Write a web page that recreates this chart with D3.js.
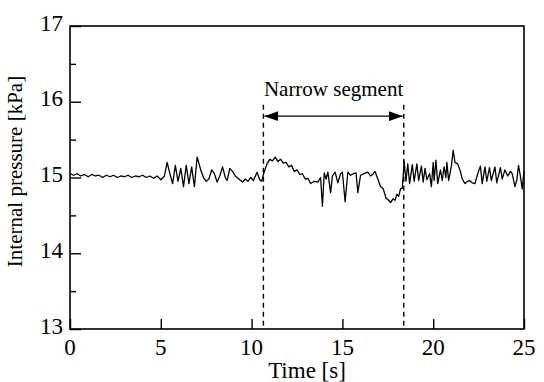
<!DOCTYPE html>
<html>
<head>
<meta charset="utf-8">
<script src="https://cdn.jsdelivr.net/npm/d3@7"></script>
<style>
  html, body { margin: 0; padding: 0; background: #fff; }
</style>
</head>
<body>
<div id="canvas"></div>
<script>
'use strict';

// Sample times [s] and internal pressure [kPa].
const timeS = [
  0.0, 0.2, 0.4, 0.6, 0.8, 1.0, 1.2, 1.4, 1.6, 1.8, 2.0, 2.2, 2.4, 2.6, 2.8,
  3.0, 3.2, 3.4, 3.6, 3.8, 4.0, 4.2, 4.4, 4.6, 4.8, 5.0, 5.2, 5.35, 5.5, 5.65,
  5.8, 5.95, 6.1, 6.25, 6.4, 6.55, 6.7, 6.85, 7.0, 7.2, 7.35, 7.5, 7.65, 7.8,
  7.95, 8.1, 8.25, 8.4, 8.55, 8.65, 8.8, 8.95, 9.1, 9.3, 9.5, 9.65, 9.8, 9.95,
  10.1, 10.3, 10.45, 10.55, 10.7, 10.85, 11.0, 11.15, 11.3, 11.45, 11.6, 11.75,
  11.9, 12.05, 12.2, 12.35, 12.5, 12.65, 12.8, 12.95, 13.1, 13.25, 13.45, 13.65,
  13.8, 13.9, 14.0, 14.1, 14.2, 14.35, 14.45, 14.6, 14.75, 14.9, 15.0, 15.15,
  15.3, 15.45, 15.6, 15.75, 15.85, 16.0, 16.2, 16.4, 16.55, 16.7, 16.8, 16.95,
  17.1, 17.25, 17.4, 17.55, 17.65, 17.8, 17.9, 18.0, 18.1, 18.2, 18.3, 18.4,
  18.5, 18.6, 18.7, 18.85, 18.95, 19.1, 19.2, 19.35, 19.45, 19.55, 19.65, 19.8,
  19.9, 20.0, 20.05, 20.15, 20.25, 20.4, 20.5, 20.6, 20.7, 20.75, 20.85, 21.0,
  21.1, 21.2, 21.35, 21.5, 21.6, 21.75, 21.9, 22.0, 22.15, 22.3, 22.45, 22.6,
  22.7, 22.85, 22.95, 23.1, 23.2, 23.4, 23.5, 23.7, 23.8, 23.95, 24.1, 24.25,
  24.35, 24.5, 24.6, 24.7, 24.8, 24.9, 25.0,
];
const pressureKPa = [
  15.05, 15.03, 15.05, 15.02, 15.04, 15.01, 15.04, 15.02, 15.03, 15.00, 15.03,
  15.01, 15.03, 15.00, 15.02, 15.01, 15.03, 15.00, 15.02, 15.01, 15.03, 15.00,
  15.02, 14.99, 15.02, 14.97, 15.02, 15.20, 15.05, 14.92, 15.16, 14.95, 15.12,
  14.88, 15.16, 14.92, 15.14, 14.88, 15.27, 15.10, 15.00, 14.95, 14.98, 15.10,
  15.05, 14.94, 15.02, 15.14, 15.00, 14.96, 15.12, 15.08, 15.02, 14.98, 14.94,
  14.98, 14.95, 15.00, 14.96, 15.07, 14.97, 14.95, 15.08, 15.18, 15.24, 15.22,
  15.27, 15.21, 15.24, 15.19, 15.20, 15.14, 15.16, 15.08, 15.10, 15.04, 15.05,
  14.98, 14.99, 14.92, 14.95, 14.94, 15.00, 14.62, 15.06, 14.98, 15.07, 14.80,
  15.02, 15.07, 14.93, 15.05, 15.07, 14.68, 15.07, 15.03, 15.05, 15.06, 14.80,
  15.03, 15.05, 15.07, 15.02, 15.05, 15.08, 14.98, 14.88, 14.85, 14.73, 14.70,
  14.67, 14.72, 14.70, 14.78, 14.75, 14.85, 14.86, 15.22, 14.95, 15.18, 14.92,
  15.17, 14.95, 15.18, 14.96, 15.15, 14.94, 15.12, 14.97, 15.05, 14.88, 15.20,
  14.96, 15.23, 14.92, 15.10, 14.96, 15.14, 15.00, 15.20, 14.96, 15.15, 15.36,
  15.20, 15.18, 15.08, 14.98, 14.92, 14.95, 14.96, 14.93, 14.92, 15.05, 15.15,
  14.92, 15.14, 14.95, 15.13, 14.96, 15.14, 14.93, 15.13, 14.98, 15.10, 15.02,
  15.08, 15.05, 14.88, 14.96, 15.16, 15.02, 14.85, 15.08,
];

const xTicks = [0, 5, 10, 15, 20, 25];
const yTicks = [13, 14, 15, 16, 17];
const yMinorTicks = [13.5, 14.5, 15.5, 16.5];

// Narrow segment markers [s] and the heights used for the annotation [kPa].
const segmentBounds = [10.65, 18.38];
const segmentLabel = 'Narrow segment';
const segmentArrowLevel = 15.81;
const segmentLineTop = 15.96;
const segmentLabelLevel = 16.07;

// A single family name; the quoted fallback list was not picked up.
const FONT = 'Liberation Serif';

class PressurePlotter {
  constructor() {
    this.width_ = 544;
    this.height_ = 382;
    this.margins_ = {top: 26, right: 20, bottom: 53, left: 70};
    this.chartWidth_ = this.width_ - this.margins_.left - this.margins_.right;
    this.chartHeight_ = this.height_ - this.margins_.top - this.margins_.bottom;
    this.svg_ = d3.select('#canvas').append('svg')
        .attr('width', this.width_)
        .attr('height', this.height_);
    this.chart_ = this.svg_.append('g')
        .attr('transform', `translate(${this.margins_.left},${this.margins_.top})`);
    this.x_ = d3.scaleLinear().domain([0, 25]).range([0, this.chartWidth_]);
    this.y_ = d3.scaleLinear().domain([13, 17]).range([this.chartHeight_, 0]);
  }

  draw() {
    this.drawAxes_();
    this.drawTrace_();
    this.drawSegment_();
    this.drawLabels_();
  }

  text_(parent) {
    return parent.append('text')
        .attr('font-family', FONT)
        .attr('fill', '#000');
  }

  drawAxes_() {
    // Ticks point into the plot, labels are added separately below.
    this.chart_.append('g')
        .attr('transform', `translate(0,${this.chartHeight_})`)
        .call(d3.axisBottom(this.x_).tickValues(xTicks)
            .tickSizeInner(-10).tickSizeOuter(0).tickFormat(''));
    this.chart_.append('g')
        .call(d3.axisLeft(this.y_).tickValues(yTicks)
            .tickSizeInner(-11).tickSizeOuter(0).tickFormat(''));
    this.chart_.append('g')
        .call(d3.axisLeft(this.y_).tickValues(yMinorTicks)
            .tickSizeInner(-6).tickSizeOuter(0).tickFormat(''));
    this.chart_.selectAll('.domain').remove();
    this.chart_.selectAll('.tick line').attr('stroke', '#000').attr('stroke-width', 1.4);

    this.chart_.append('rect')
        .attr('width', this.chartWidth_)
        .attr('height', this.chartHeight_)
        .attr('fill', 'none')
        .attr('stroke', '#000')
        .attr('stroke-width', 1.6);

    const xLabels = this.chart_.append('g');
    xTicks.forEach(d => {
      this.text_(xLabels)
          .attr('x', this.x_(d))
          .attr('y', this.chartHeight_ + 26)
          .attr('text-anchor', 'middle')
          .attr('font-size', 23)
          .text(d);
    });
    const yLabels = this.chart_.append('g');
    yTicks.forEach(d => {
      this.text_(yLabels)
          .attr('x', -7)
          .attr('y', this.y_(d) + 4.5)
          .attr('text-anchor', 'end')
          .attr('font-size', 23)
          .text(d);
    });
  }

  drawTrace_() {
    const points = timeS.map((t, i) => ({x: t, y: pressureKPa[i]}));
    const line = d3.line()
        .x(d => this.x_(d.x))
        .y(d => this.y_(d.y));
    this.chart_.append('path')
        .datum(points)
        .attr('d', line)
        .attr('fill', 'none')
        .attr('stroke', '#000')
        .attr('stroke-width', 1.3)
        .attr('stroke-linejoin', 'round');
  }

  drawSegment_() {
    this.chart_.selectAll('.segment-edge')
        .data(segmentBounds)
        .enter()
        .append('line')
        .attr('class', 'segment-edge')
        .attr('x1', d => this.x_(d))
        .attr('x2', d => this.x_(d))
        .attr('y1', this.y_(segmentLineTop))
        .attr('y2', this.chartHeight_)
        .attr('stroke', '#000')
        .attr('stroke-width', 1.4)
        .attr('stroke-dasharray', '5,4');

    const defs = this.svg_.append('defs');
    defs.append('marker')
        .attr('id', 'arrow-head')
        .attr('viewBox', '0 0 14 10')
        .attr('refX', 14)
        .attr('refY', 5)
        .attr('markerWidth', 14)
        .attr('markerHeight', 10)
        .attr('markerUnits', 'userSpaceOnUse')
        .attr('orient', 'auto-start-reverse')
        .append('path')
        .attr('d', 'M0,0L14,5L0,10Z')
        .attr('fill', '#000');

    const [x0, x1] = segmentBounds.map(this.x_);
    const yArrow = this.y_(segmentArrowLevel);
    this.chart_.append('line')
        .attr('x1', x0 + 1)
        .attr('x2', x1 - 1)
        .attr('y1', yArrow)
        .attr('y2', yArrow)
        .attr('stroke', '#000')
        .attr('stroke-width', 1.4)
        .attr('marker-start', 'url(#arrow-head)')
        .attr('marker-end', 'url(#arrow-head)');

    this.text_(this.chart_)
        .attr('x', (x0 + x1) / 2)
        .attr('y', this.y_(segmentLabelLevel))
        .attr('text-anchor', 'middle')
        .attr('font-size', 21)
        .text(segmentLabel);
  }

  drawLabels_() {
    this.text_(this.chart_)
        .attr('x', this.chartWidth_ / 2 + 10)
        .attr('y', this.chartHeight_ + 49)
        .attr('text-anchor', 'middle')
        .attr('font-size', 23)
        .text('Time [s]');
    this.text_(this.chart_)
        .attr('transform', 'rotate(-90)')
        .attr('x', -(this.chartHeight_ / 2) + 6)
        .attr('y', -48)
        .attr('text-anchor', 'middle')
        .attr('font-size', 21)
        .text('Internal pressure [kPa]');
  }
}

new PressurePlotter().draw();
</script>
</body>
</html>
